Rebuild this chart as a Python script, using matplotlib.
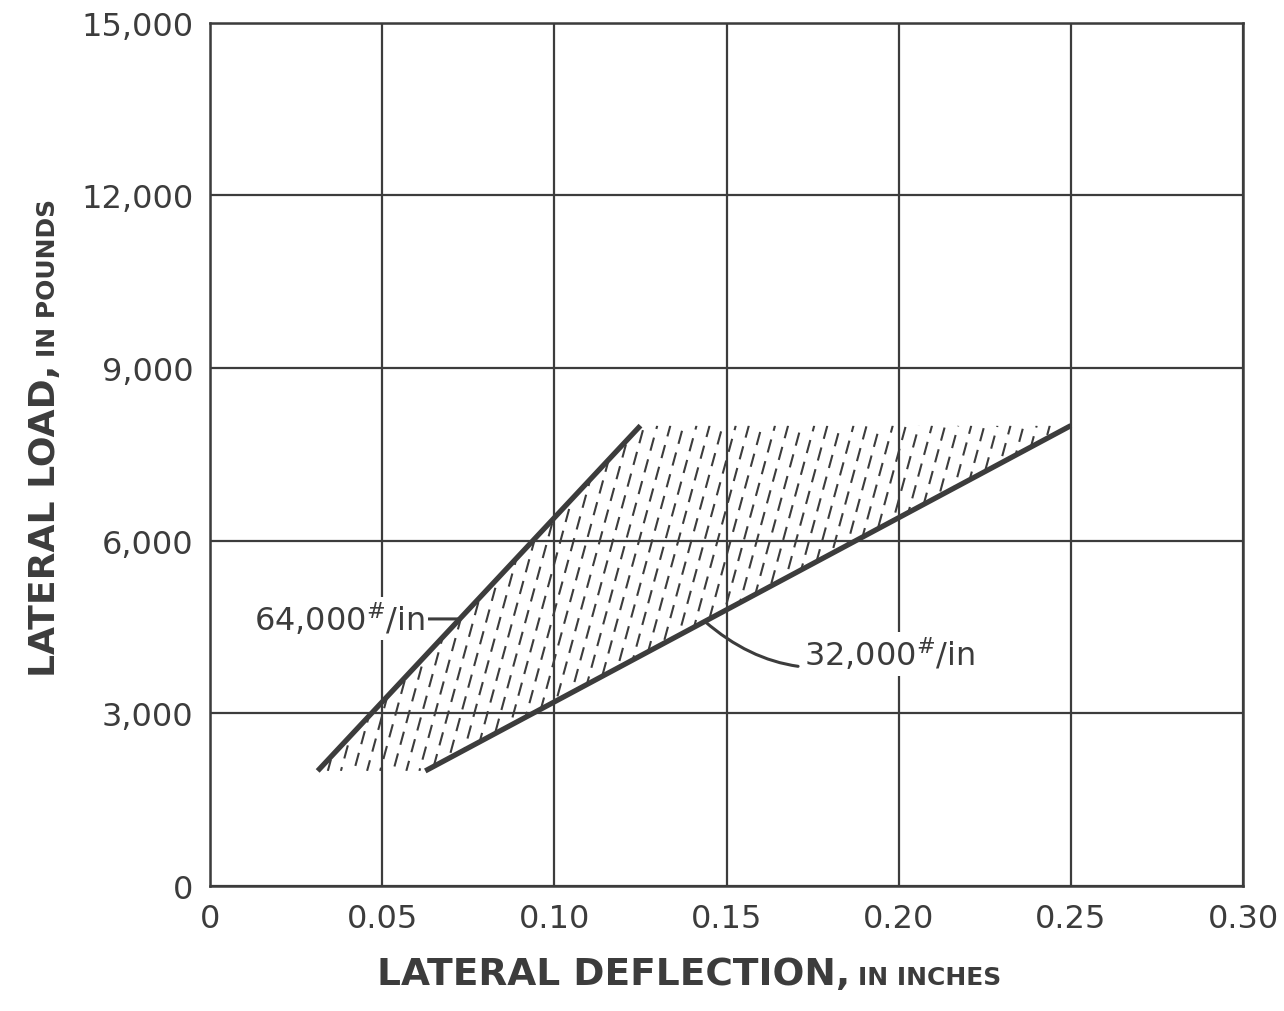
import numpy as np
import matplotlib.pyplot as plt
from matplotlib.patches import Polygon

# data
x_ticks = [0, 0.05, 0.10, 0.15, 0.20, 0.25, 0.30]
x_labels = ["0", "0.05", "0.10", "0.15", "0.20", "0.25", "0.30"]
y_ticks = [0, 3000, 6000, 9000, 12000, 15000]
y_labels = ["0", "3,000", "6,000", "9,000", "12,000", "15,000"]

load_range = [2000, 8000]          # lb
stiff_high = 64000                 # lb/in
stiff_low = 32000                  # lb/in

ink = "#3c3c3c"

fig = plt.figure(figsize=(12.84, 10.12), dpi=100)
ax = fig.add_axes([0.1636, 0.1235, 0.8045, 0.8530])

ax.set_xlim(0, 0.30)
ax.set_ylim(0, 15000)
ax.set_xticks(x_ticks)
ax.set_xticklabels(x_labels)
ax.set_yticks(y_ticks)
ax.set_yticklabels(y_labels)
ax.tick_params(length=0, labelsize=23, colors=ink, pad=12)
ax.grid(True, color=ink, linewidth=1.6)
ax.set_axisbelow(True)
for s in ax.spines.values():
    s.set_color(ink)
    s.set_linewidth(1.8)

# stiffness lines
loads = np.array(load_range)
x_hi = loads / stiff_high
x_lo = loads / stiff_low
ax.plot(x_hi, loads, color=ink, linewidth=3.8, solid_capstyle="butt", zorder=4)
ax.plot(x_lo, loads, color=ink, linewidth=3.8, solid_capstyle="butt", zorder=4)

# hatched band between the two lines (hand-drawn dashed hatching)
band = Polygon([(x_hi[0], loads[0]), (x_hi[1], loads[1]),
                (x_lo[1], loads[1]), (x_lo[0], loads[0])],
               closed=True, facecolor="none", edgecolor="none")
ax.add_patch(band)
hatch_slope = 220000.0
hatch_step = 0.0038
for i, x0 in enumerate(np.arange(0.0, 0.30, hatch_step)):
    hx = [x0, x0 + (loads[1] - loads[0]) / hatch_slope]
    phase = (i * 3.7) % 10.8
    ln, = ax.plot(hx, loads, color=ink, linewidth=1.5,
                  linestyle=(phase, (6.5, 4.3)), zorder=3)
    ln.set_clip_path(band)

# labels on the lines
y_a = 4641
ax.annotate("64,000$^{\\#}$/in", xy=(y_a / stiff_high, y_a), xytext=(0.0625, y_a),
            ha="right", va="center", fontsize=23, color=ink, zorder=6,
            bbox=dict(boxstyle="square,pad=0.1", fc="white", ec="none"),
            arrowprops=dict(arrowstyle="-", color=ink, lw=2.2,
                            shrinkA=0, shrinkB=0))
y_b = 4598
ax.annotate("32,000$^{\\#}$/in", xy=(y_b / stiff_low, y_b), xytext=(0.1725, 4032),
            ha="left", va="center", fontsize=23, color=ink, zorder=6,
            bbox=dict(boxstyle="square,pad=0.1", fc="white", ec="none"),
            arrowprops=dict(arrowstyle="-", color=ink, lw=2.2,
                            shrinkA=2, shrinkB=0,
                            connectionstyle="arc3,rad=-0.3"))

# axis titles (two sizes, like the lettering on the original)
fig.text(850 / 1284, 27 / 1012, "LATERAL DEFLECTION,", ha="right", va="baseline",
         fontsize=27, fontweight="bold", color=ink)
fig.text(858 / 1284, 27 / 1012, "IN INCHES", ha="left", va="baseline",
         fontsize=18, fontweight="bold", color=ink)
fig.text(55 / 1284, (1012 - 365) / 1012, "LATERAL LOAD,", rotation=90,
         rotation_mode="anchor", ha="right", va="baseline",
         fontsize=26, fontweight="bold", color=ink)
fig.text(55 / 1284, (1012 - 357) / 1012, "IN POUNDS", rotation=90,
         rotation_mode="anchor", ha="left", va="baseline",
         fontsize=18, fontweight="bold", color=ink)

fig.savefig("out.png", dpi=100)
